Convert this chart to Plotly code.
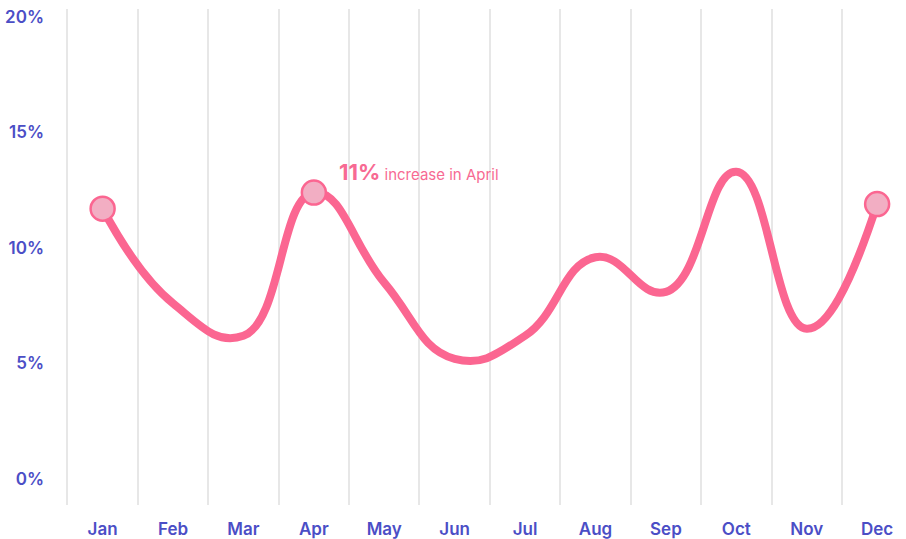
import plotly.graph_objects as go

months = ["Jan", "Feb", "Mar", "Apr", "May", "Jun", "Jul", "Aug", "Sep", "Oct", "Nov", "Dec"]
rates = [11.7, 7.6, 6.2, 12.4, 8.5, 5.2, 6.2, 9.6, 8.1, 13.3, 6.5, 11.9]
highlight = ["Jan", "Apr", "Dec"]
ytick_vals = [0, 5, 10, 15, 20]
ytick_text = ["0%", "5%", "10%", "15%", "20%"]

LINE = "#FB6691"
LABEL = "#4B4EC6"

hx = [m for m in months if m in highlight]
hy = [rates[months.index(m)] for m in hx]

fig = go.Figure()
fig.add_trace(go.Scatter(
    x=months, y=rates, mode="lines",
    line=dict(color=LINE, width=8, shape="spline", smoothing=1.3),
    hoverinfo="skip", showlegend=False,
))
fig.add_trace(go.Scatter(
    x=hx, y=hy, mode="markers",
    marker=dict(size=24, color="#F2AEC3", line=dict(color=LINE, width=2.5)),
    hoverinfo="skip", showlegend=False,
))

apr_val = rates[months.index("Apr")]
fig.add_annotation(
    x="Apr", y=apr_val, xref="x", yref="y",
    text="<b>11%</b><span style='font-size:15px'> increase in April</span>",
    showarrow=False, xanchor="left", yanchor="middle",
    xshift=23, yshift=21,
    font=dict(family="Inter", size=22, color="#F76A93"),
)

fig.update_layout(
    width=906, height=539,
    margin=dict(l=66, r=0, t=9, b=34, autoexpand=False),
    paper_bgcolor="white", plot_bgcolor="white",
    font=dict(family="Inter"),
    xaxis=dict(
        type="category", categoryorder="array", categoryarray=months,
        range=[-0.52, 11.41], tickson="boundaries",
        showgrid=True, gridcolor="#E7E7E7", gridwidth=1.5,
        showline=False, zeroline=False, ticks="",
        tickfont=dict(family="Inter", size=17, color=LABEL, weight=600),
        ticklabelstandoff=12, fixedrange=True, automargin=False,
    ),
    yaxis=dict(
        range=[-1.13, 20.35], tickvals=ytick_vals, ticktext=ytick_text,
        showgrid=False, zeroline=False, showline=False, ticks="",
        tickfont=dict(family="Inter", size=17, color=LABEL, weight=600),
        ticklabelstandoff=21, fixedrange=True, automargin=False,
    ),
)

fig.write_html("out.html", config={"displayModeBar": False},
               post_script="document.body.style.margin='0';")
